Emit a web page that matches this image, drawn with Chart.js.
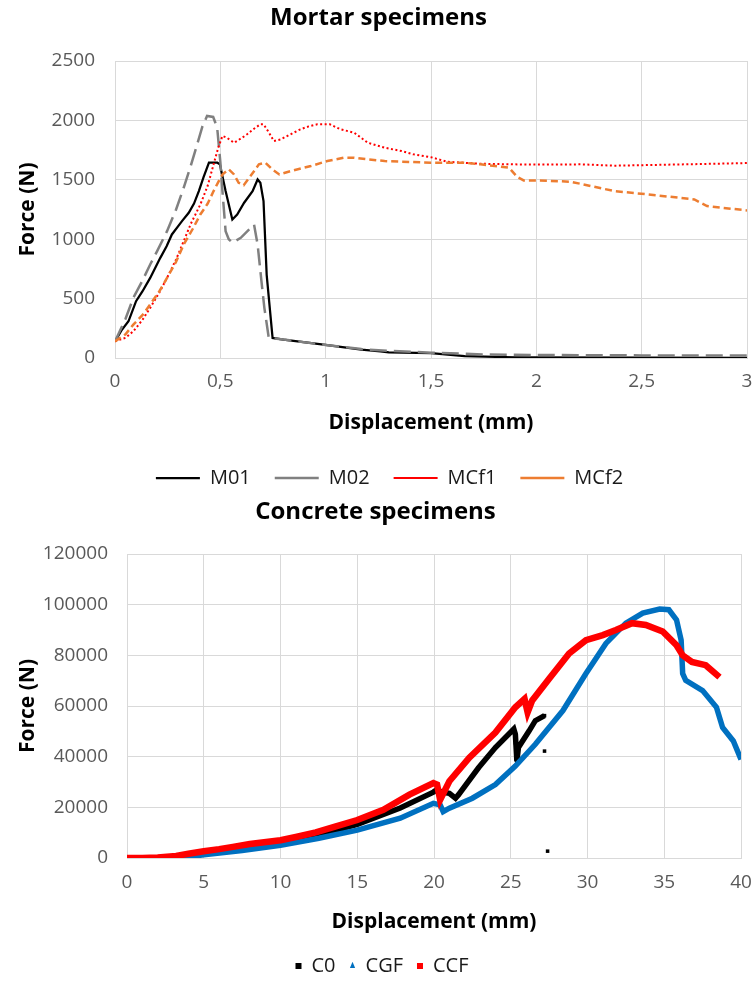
<!DOCTYPE html>
<html>
<head>
<meta charset="utf-8">
<script src="https://cdn.jsdelivr.net/npm/chart.js@4.4.1/dist/chart.umd.min.js"></script>
<style>
  html, body { margin: 0; background: #fff; overflow: hidden; }
  .box { position: absolute; left: 0; width: 755px; }
  #top_box { top: 0; height: 498px; }
  #bottom_box { top: 495px; height: 494px; }
</style>
</head>
<body>
<div class="box" id="top_box"><canvas id="mortar"></canvas></div>
<div class="box" id="bottom_box"><canvas id="concrete"></canvas></div>
<script>
// mortar specimens, displacement (mm) / force (N)
m01_x = [0, 0.03, 0.064, 0.10, 0.13, 0.167, 0.215, 0.245, 0.27, 0.30, 0.318, 0.35, 0.375, 0.398, 0.42, 0.446, 0.486, 0.498, 0.51, 0.525, 0.557, 0.58, 0.613, 0.653, 0.677, 0.69, 0.705, 0.72, 0.748, 0.8, 0.99, 1.17, 1.26, 1.3, 1.5, 1.66, 1.9, 2.5, 3.0]
m01_y = [140, 230, 309, 478, 560, 674, 843, 940, 1040, 1110, 1152, 1222, 1300, 1405, 1520, 1644, 1644, 1630, 1530, 1405, 1166, 1208, 1307, 1405, 1503, 1475, 1320, 700, 169, 155, 112, 70, 55, 48, 40, 15, 6, 3, 2]

m02_x = [0, 0.05, 0.087, 0.13, 0.167, 0.20, 0.247, 0.29, 0.326, 0.36, 0.39, 0.415, 0.437, 0.466, 0.485, 0.50, 0.51, 0.525, 0.54, 0.557, 0.597, 0.637, 0.66, 0.677, 0.695, 0.709, 0.73, 0.8, 0.99, 1.17, 1.3, 1.5, 1.75, 2.0, 2.5, 3.0]
m02_y = [140, 330, 506, 650, 787, 900, 1068, 1250, 1433, 1620, 1798, 1950, 2037, 2029, 1939, 1650, 1405, 1068, 1000, 970, 1012, 1082, 1124, 955, 650, 422, 169, 155, 112, 75, 60, 45, 30, 25, 22, 22]

mcf1_x = [0, 0.05, 0.087, 0.13, 0.167, 0.21, 0.247, 0.29, 0.326, 0.36, 0.405, 0.44, 0.468, 0.49, 0.51, 0.53, 0.565, 0.6, 0.627, 0.66, 0.69, 0.705, 0.73, 0.754, 0.786, 0.83, 0.88, 0.92, 0.96, 1.02, 1.07, 1.135, 1.2, 1.28, 1.36, 1.417, 1.5, 1.576, 1.735, 1.894, 2.05, 2.21, 2.37, 2.53, 2.7, 2.846, 3.0]
mcf1_y = [140, 170, 225, 320, 422, 550, 674, 830, 983, 1130, 1292, 1450, 1630, 1770, 1869, 1855, 1812, 1850, 1883, 1930, 1967, 1967, 1900, 1826, 1840, 1880, 1925, 1950, 1967, 1967, 1925, 1897, 1812, 1770, 1742, 1714, 1690, 1652, 1635, 1630, 1628, 1630, 1619, 1624, 1630, 1635, 1641]

mcf2_x = [0, 0.05, 0.087, 0.13, 0.167, 0.21, 0.247, 0.29, 0.326, 0.37, 0.405, 0.44, 0.468, 0.49, 0.51, 0.54, 0.565, 0.587, 0.611, 0.643, 0.683, 0.714, 0.746, 0.78, 0.833, 0.93, 1.008, 1.087, 1.135, 1.2, 1.28, 1.36, 1.5, 1.656, 1.735, 1.87, 1.91, 1.94, 2.0, 2.163, 2.37, 2.53, 2.75, 2.81, 3.0]
mcf2_y = [140, 200, 281, 360, 450, 560, 674, 810, 955, 1090, 1208, 1300, 1405, 1480, 1545, 1588, 1545, 1475, 1455, 1531, 1630, 1644, 1588, 1545, 1573, 1616, 1658, 1686, 1686, 1672, 1658, 1652, 1644, 1644, 1630, 1602, 1523, 1495, 1495, 1484, 1405, 1377, 1335, 1279, 1242]

// concrete specimens
c0_x = [0, 2, 3.5, 5, 7.5, 10, 12.5, 15, 17.8, 19.96, 20.2, 20.5, 21, 21.4, 21.6, 22.9, 24, 25.2, 25.3, 25.4, 25.5, 26.2, 26.6, 27.2]
c0_y = [0, 0, 300, 2100, 3800, 5700, 9000, 13300, 19700, 26000, 27000, 26000, 25500, 23600, 25000, 35600, 43600, 50900, 48900, 38200, 43600, 50200, 54200, 56200]
// loose C0 readings
c0_loose_x = [25.3, 27.2, 27.4]
c0_loose_y = [45500, 42200, 2700]

cgf_x = [0, 2, 3.65, 5, 7.5, 10, 12.5, 15, 17.8, 19.96, 20.4, 20.6, 21, 22.5, 24, 25.3, 26.6, 28.4, 29.9, 31.2, 32.5, 33.6, 34.7, 35.3, 35.8, 36.1, 36.2, 36.4, 37.5, 38.4, 38.8, 39.5, 40]
cgf_y = [0, 0, 0, 1300, 3000, 5000, 7800, 11000, 15700, 21600, 21000, 18300, 19650, 23600, 29000, 36300, 44900, 58200, 72800, 84700, 92700, 96700, 98300, 98000, 94000, 86000, 72800, 70100, 66100, 59500, 51500, 46200, 38900]

ccf_x = [0, 1, 2, 3.2, 4, 5, 6, 6.9, 8, 10, 11, 12.3, 13.5, 15, 16.7, 18.4, 19.96, 20.2, 20.4, 21, 22.3, 24, 25.3, 25.9, 26.1, 26.4, 27.5, 28.8, 29.9, 31, 31.85, 32.9, 33.8, 34.9, 35.8, 36.2, 36.8, 37.7, 38.6]
ccf_y = [0, 0, 200, 800, 1700, 2650, 3500, 4400, 5500, 7000, 8300, 10100, 12300, 15000, 19000, 25000, 29600, 29000, 23000, 30300, 39600, 49500, 59500, 62800, 57500, 62200, 70800, 80700, 86000, 88000, 90000, 92700, 92000, 89400, 84000, 80000, 77400, 76100, 71400]

Chart.defaults.font.family = "'Open Sans'"
Chart.defaults.animation = false

function pts(xs, ys) {
    out = []
    for (let i = 0; i < xs.length; i++) {
        out.push({'x': xs[i], 'y': ys[i]})
    }
    return out
}

c0_data = pts(c0_x, c0_y)
for (let i = 0; i < c0_loose_x.length; i++) {
    c0_data.push({'x': c0_loose_x[i], 'y': null})   // break the line before each loose point
    c0_data.push({'x': c0_loose_x[i], 'y': c0_loose_y[i]})
}

// nudge the legend row sideways without moving the plot or the title
legend_shift = {
    id: 'legend_shift',
    afterLayout(chart, args, opts) {
        chart.legend.left += opts.dx
        chart.legend.right += opts.dx
    }
}

grid_color = '#d9d9d9'
tick_color = '#595959'

function make_options(o) {
    return {
        responsive: true,
        maintainAspectRatio: false,
        devicePixelRatio: 1,
        layout: {padding: {left: 10, right: o.right, top: 0, bottom: o.bottom}},
        scales: {
            x: {
                type: 'linear', min: o.xmin, max: o.xmax,
                grid: {color: grid_color, drawTicks: false},
                border: {color: grid_color},
                ticks: {stepSize: o.xstep, padding: o.xpad, color: tick_color, font: {size: 19},
                        callback: v => String(v).replace('.', ',')},
                title: {display: true, text: 'Displacement (mm)', color: '#000',
                        font: {size: 21, weight: 'bold'}, padding: {top: 0, bottom: o.xtitle_pb}},
                // the layout padding alone decides the right margin
                afterFit: s => { s.height = o.xh; s.paddingLeft = 0; s.paddingRight = 0 }
            },
            y: {
                type: 'linear', min: o.ymin, max: o.ymax,
                grid: {color: grid_color, drawTicks: false},
                border: {color: grid_color},
                ticks: {stepSize: o.ystep, padding: o.ypad, color: tick_color, font: {size: 19},
                        callback: v => String(v)},
                title: {display: true, text: 'Force (N)', color: '#000',
                        font: {size: 21, weight: 'bold'}, padding: {top: 5.4, bottom: 0}},
                afterFit: s => { s.width = o.yw }
            }
        },
        plugins: {
            title: {display: true, text: o.title, color: '#000', font: {size: 24, weight: 'bold'},
                    padding: {top: o.tpt, bottom: o.tpb}},
            legend: {
                position: 'bottom',
                labels: {
                    usePointStyle: true, pointStyleWidth: o.lw, boxWidth: o.lw, boxHeight: o.lbh,
                    padding: o.lpad, color: '#1a1a1a', font: {size: 20},
                    sort: (a, b) => a.datasetIndex - b.datasetIndex
                }
            },
            legend_shift: {dx: o.ldx},
            tooltip: {enabled: false}
        }
    }
}

new Chart(document.getElementById('mortar'), {
    type: 'scatter',
    plugins: [legend_shift],
    data: {
        datasets: [
            {label: 'M01', data: pts(m01_x, m01_y), showLine: true, pointRadius: 0, order: 4,
             borderColor: '#000000', backgroundColor: '#000000', borderWidth: 2.25, pointStyle: 'line'},
            {label: 'M02', data: pts(m02_x, m02_y), showLine: true, pointRadius: 0, order: 3,
             borderColor: '#808080', backgroundColor: '#808080', borderWidth: 2.5, borderDash: [17, 7], pointStyle: 'line'},
            {label: 'MCf1', data: pts(mcf1_x, mcf1_y), showLine: true, pointRadius: 0, order: 2,
             borderColor: '#ff0000', backgroundColor: '#ff0000', borderWidth: 2, borderDash: [2, 2.5], pointStyle: 'line'},
            {label: 'MCf2', data: pts(mcf2_x, mcf2_y), showLine: true, pointRadius: 0, order: 1,
             borderColor: '#ed7d31', backgroundColor: '#ed7d31', borderWidth: 2.5, borderDash: [7, 4], pointStyle: 'line'}
        ]
    },
    options: make_options({
        title: 'Mortar specimens', right: 8, bottom: 0,
        xmin: 0, xmax: 3, xstep: 0.5, xpad: 12.6, xh: 86, xtitle_pb: 8.4,
        ymin: 0, ymax: 2500, ystep: 500, ypad: 20, yw: 105,
        tpt: 3.6, tpb: 28.6, lw: 44, lbh: 20, lpad: 24, ldx: 11
    })
})

new Chart(document.getElementById('concrete'), {
    type: 'scatter',
    plugins: [legend_shift],
    data: {
        datasets: [
            {label: 'C0', data: c0_data, showLine: true, spanGaps: false, order: 3,
             borderColor: '#000000', backgroundColor: '#000000', borderWidth: 5.5,
             pointStyle: 'rect', pointRadius: 2.5, pointBorderWidth: 0},
            {label: 'CGF', data: pts(cgf_x, cgf_y), showLine: true, order: 2,
             borderColor: '#0070c0', backgroundColor: '#0070c0', borderWidth: 5.5,
             pointStyle: 'triangle', pointRadius: 0, pointBorderWidth: 0},
            {label: 'CCF', data: pts(ccf_x, ccf_y), showLine: true, order: 1,
             borderColor: '#ff0000', backgroundColor: '#ff0000', borderWidth: 6.5,
             pointStyle: 'rect', pointRadius: 0, pointBorderWidth: 0}
        ]
    },
    options: make_options({
        title: 'Concrete specimens', right: 14, bottom: 3,
        xmin: 0, xmax: 40, xstep: 5, xpad: 13, xh: 84, xtitle_pb: 7.4,
        ymin: 0, ymax: 120000, ystep: 20000, ypad: 19, yw: 117,
        tpt: 2.6, tpb: 27.6, lw: 6, lbh: 6, lpad: 14, ldx: 6.5
    })
})
</script>
</body>
</html>
